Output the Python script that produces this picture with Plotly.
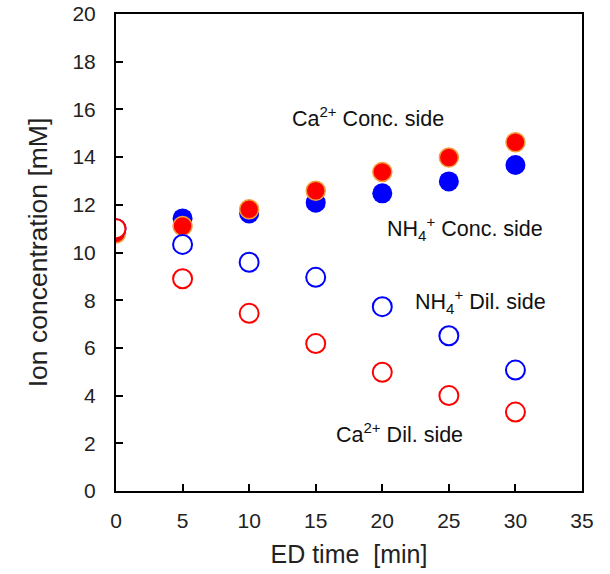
import plotly.graph_objects as go

time_min = [0, 5, 10, 15, 20, 25, 30]
nh4_conc = [11.0, 11.43, 11.64, 12.09, 12.48, 12.98, 13.67]
ca_conc = [10.8, 11.11, 11.81, 12.59, 13.38, 13.98, 14.62]
nh4_dil = [11.0, 10.34, 9.59, 8.96, 7.73, 6.51, 5.07]
ca_dil = [11.0, 8.90, 7.45, 6.18, 4.98, 4.00, 3.31]

x_ticks = [0, 5, 10, 15, 20, 25, 30, 35]
y_ticks = [0, 2, 4, 6, 8, 10, 12, 14, 16, 18, 20]

FONT = "Liberation Sans, Arial, sans-serif"

fig = go.Figure()
fig.add_trace(go.Scatter(x=time_min, y=nh4_conc, mode="markers",
                         marker=dict(size=20, color="#0000FF", line=dict(width=0)),
                         name="NH4+ Conc. side"))
fig.add_trace(go.Scatter(x=time_min, y=ca_conc, mode="markers",
                         marker=dict(size=19, color="#FF0000", line=dict(width=1.5, color="#F2A03C")),
                         name="Ca2+ Conc. side"))
fig.add_trace(go.Scatter(x=time_min, y=nh4_dil, mode="markers",
                         marker=dict(size=19, color="rgba(255,255,255,1)", line=dict(width=2, color="#0000FF")),
                         name="NH4+ Dil. side"))
fig.add_trace(go.Scatter(x=time_min, y=ca_dil, mode="markers",
                         marker=dict(size=19, color="rgba(255,255,255,1)", line=dict(width=2, color="#FF0000")),
                         name="Ca2+ Dil. side"))

ann_font = dict(family=FONT, size=21.5, color="#111111")
labels = [
    ("Ca<sup>2+</sup> Conc. side", 18.9, 15.68),
    ("NH<sub>4</sub><sup>+</sup> Conc. side", 26.2, 11.0),
    ("NH<sub>4</sub><sup>+</sup> Dil. side", 27.4, 7.95),
    ("Ca<sup>2+</sup> Dil. side", 21.3, 2.43),
]
for text, ax, ay in labels:
    fig.add_annotation(x=ax, y=ay, xref="x", yref="y", text=text, showarrow=False,
                       font=ann_font, xanchor="center", yanchor="middle")

axis_common = dict(showline=True, linecolor="black", linewidth=2, mirror=True,
                   ticks="inside", ticklen=7, tickwidth=1.5, tickcolor="black",
                   showgrid=False, zeroline=False, automargin=False,
                   ticklabeloverflow="allow",
                   tickfont=dict(family=FONT, size=21, color="#222222"))

fig.update_xaxes(range=[0, 35], tickvals=x_ticks, ticktext=[str(v) for v in x_ticks],
                 ticklabelstandoff=10,
                 title=dict(text="ED time&nbsp;&nbsp;[min]", font=dict(family=FONT, size=25, color="#222222"), standoff=14),
                 **axis_common)
fig.update_yaxes(range=[0, 20], tickvals=y_ticks, ticktext=[str(v) for v in y_ticks],
                 ticklabelstandoff=14,
                 title=dict(text="Ion concentration [mM]", font=dict(family=FONT, size=26.5, color="#222222"), standoff=17),
                 **axis_common)

fig.update_layout(width=610, height=574, margin=dict(l=116, r=28, t=14, b=83),
                  paper_bgcolor="white", plot_bgcolor="white", showlegend=False)

fig.write_html("out.html", config={"displayModeBar": False},
               post_script="document.body.style.margin='0';")
